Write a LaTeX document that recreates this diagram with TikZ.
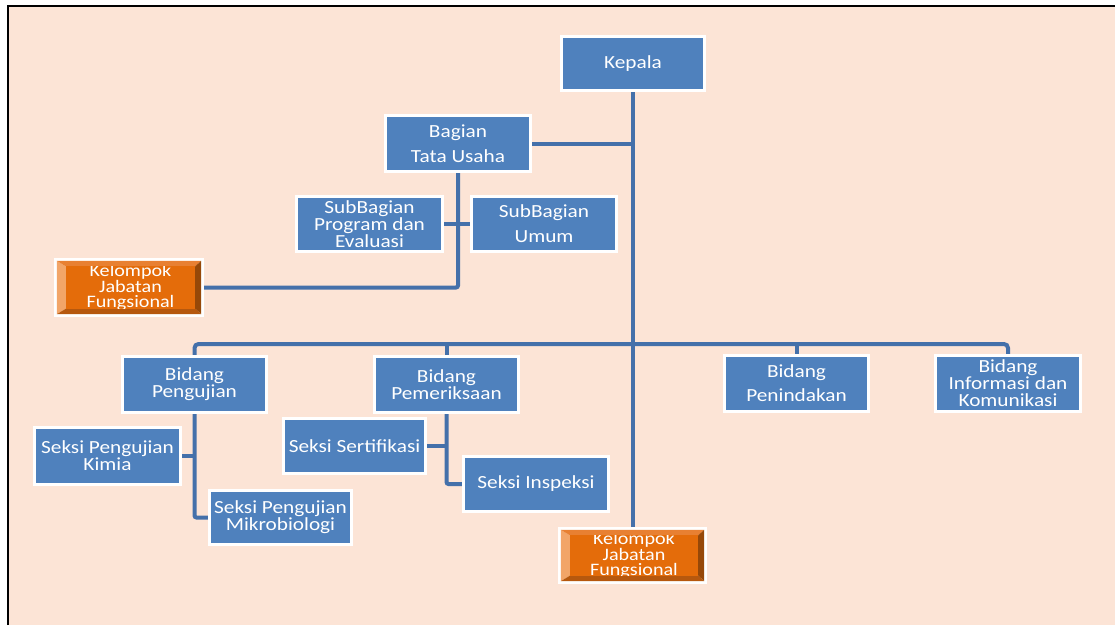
\documentclass[tikz,border=0pt]{standalone}
\usepackage{fontspec}
\setmainfont{Carlito}[FakeStretch=1.15]
\usetikzlibrary{calc}
\definecolor{bg}{RGB}{252,228,214}
\definecolor{boxblue}{RGB}{79,129,189}
\definecolor{conn}{RGB}{68,112,170}
\definecolor{orfill}{RGB}{228,108,10}
\definecolor{orlight}{RGB}{242,165,104}
\definecolor{ortop}{RGB}{232,128,50}
\definecolor{ordark}{RGB}{150,72,8}
\definecolor{orbot}{RGB}{182,88,14}
\pgfdeclarelayer{back}
\pgfdeclarelayer{mid}
\pgfsetlayers{back,mid,main}
\tikzset{
 bluebox/.style={draw=white, line width=3pt, fill=boxblue, text=white, align=center, inner sep=0pt, font=\fontsize{18.5}{17}\selectfont},
 link/.style={draw=conn, line width=4pt, rounded corners=2pt},
 kelouter/.style={fill=white, inner sep=0pt, minimum width=#1},
 keltext/.style={text=white, align=center, font=\fontsize{17.5}{15.5}\selectfont, inner sep=0pt},
}
\newcommand\kelbox[1]{%
 \fill[orlight] ($(#1.north west)+(3,3)$) -- ($(#1.south west)+(3,-3)$) -- ($(#1.south west)+(12,-8.5)$) -- ($(#1.north west)+(12,8.5)$) -- cycle;
 \fill[ortop] ($(#1.north west)+(3,3)$) -- ($(#1.north east)+(-3,3)$) -- ($(#1.north east)+(-9,8.5)$) -- ($(#1.north west)+(12,8.5)$) -- cycle;
 \fill[ordark] ($(#1.north east)+(-3,3)$) -- ($(#1.south east)+(-3,-3)$) -- ($(#1.south east)+(-9,-8.5)$) -- ($(#1.north east)+(-9,8.5)$) -- cycle;
 \fill[orbot] ($(#1.south west)+(3,-3)$) -- ($(#1.south east)+(-3,-3)$) -- ($(#1.south east)+(-9,-8.5)$) -- ($(#1.south west)+(12,-8.5)$) -- cycle;
 \fill[orfill] ($(#1.north west)+(12,8.5)$) rectangle ($(#1.south east)+(-9,-8.5)$);
 \begin{scope}
 \clip ($(#1.north west)+(12,8.5)$) rectangle ($(#1.south east)+(-9,-8.5)$);
 \node[keltext] at ($(#1.center)+(1.5,0)$) {Kelompok\\Jabatan\\Fungsional};
 \end{scope}
}
\begin{document}
\begin{tikzpicture}[x=1pt,y=-1pt]
\useasboundingbox (0,0) rectangle (1115,625);
\begin{pgfonlayer}{back}
 \fill[white] (0,0) rectangle (1115,625);
 \fill[bg] (8,6) rectangle (1115,625);
 \draw[black, line width=2pt] (8,625) -- (8,6) -- (1115,6);
\end{pgfonlayer}

\node[bluebox, minimum width=143pt, minimum height=54pt] (kepala) at (633,63.5) {Kepala};
\node[bluebox, minimum width=145pt, minimum height=56pt] (bagian) at (458,143.5) {Bagian\\[8pt]Tata Usaha};
\node[bluebox, minimum width=146pt, minimum height=55pt] (sub1) at (369.5,224) {SubBagian\\Program dan\\Evaluasi};
\node[bluebox, minimum width=145pt, minimum height=55pt] (sub2) at (544,224) {SubBagian\\[8pt]Umum};
\node[kelouter=150pt, minimum height=59pt] (kel1) at (129,287.5) {};
\kelbox{kel1}
\node[bluebox, minimum width=144pt, minimum height=56pt] (peng) at (194.5,384.5) {Bidang\\Pengujian};
\node[bluebox, minimum width=144pt, minimum height=56pt] (pem) at (446.5,384.5) {Bidang\\Pemeriksaan};
\node[bluebox, minimum width=144pt, minimum height=56pt] (penin) at (796.5,383.5) {Bidang\\[7pt]Penindakan};
\node[bluebox, minimum width=145pt, minimum height=56pt] (info) at (1008,383.5) {Bidang\\Informasi dan\\Komunikasi};
\node[bluebox, minimum width=146pt, minimum height=57pt] (kimia) at (107.5,456) {Seksi Pengujian\\Kimia};
\node[bluebox, minimum width=142pt, minimum height=54pt] (mikro) at (280.5,517.5) {Seksi Pengujian\\Mikrobiologi};
\node[bluebox, minimum width=142pt, minimum height=55pt] (sert) at (354.5,446) {Seksi Sertifikasi};
\node[bluebox, minimum width=145pt, minimum height=55pt] (insp) at (536,484) {Seksi Inspeksi};
\node[kelouter=149pt, minimum height=57pt] (kel2) at (632.5,555.5) {};
\kelbox{kel2}

\coordinate (bus) at (632,344);
\begin{pgfonlayer}{mid}
 \draw[link] (kepala.south) -- (kepala.south |- kel2.north);
 \draw[link] (bagian.east) -- (bagian.east -| kepala.south);
 \draw[link] (bagian.south) |- (kel1.east);
 \draw[link] (sub1.east) -- (sub2.west);
 \draw[link, rounded corners=4pt] (peng.north) |- (info.north |- bus) -- (info.north);
 \draw[link] (pem.north) -- (pem.north |- bus);
 \draw[link] (penin.north) -- (penin.north |- bus);
 \draw[link] (peng.south) |- (mikro.west);
 \draw[link] (kimia.east) -- (kimia.east -| peng.south);
 \draw[link] (pem.south) |- (insp.west);
 \draw[link] (sert.east) -- (sert.east -| pem.south);
\end{pgfonlayer}
\end{tikzpicture}
\end{document}
